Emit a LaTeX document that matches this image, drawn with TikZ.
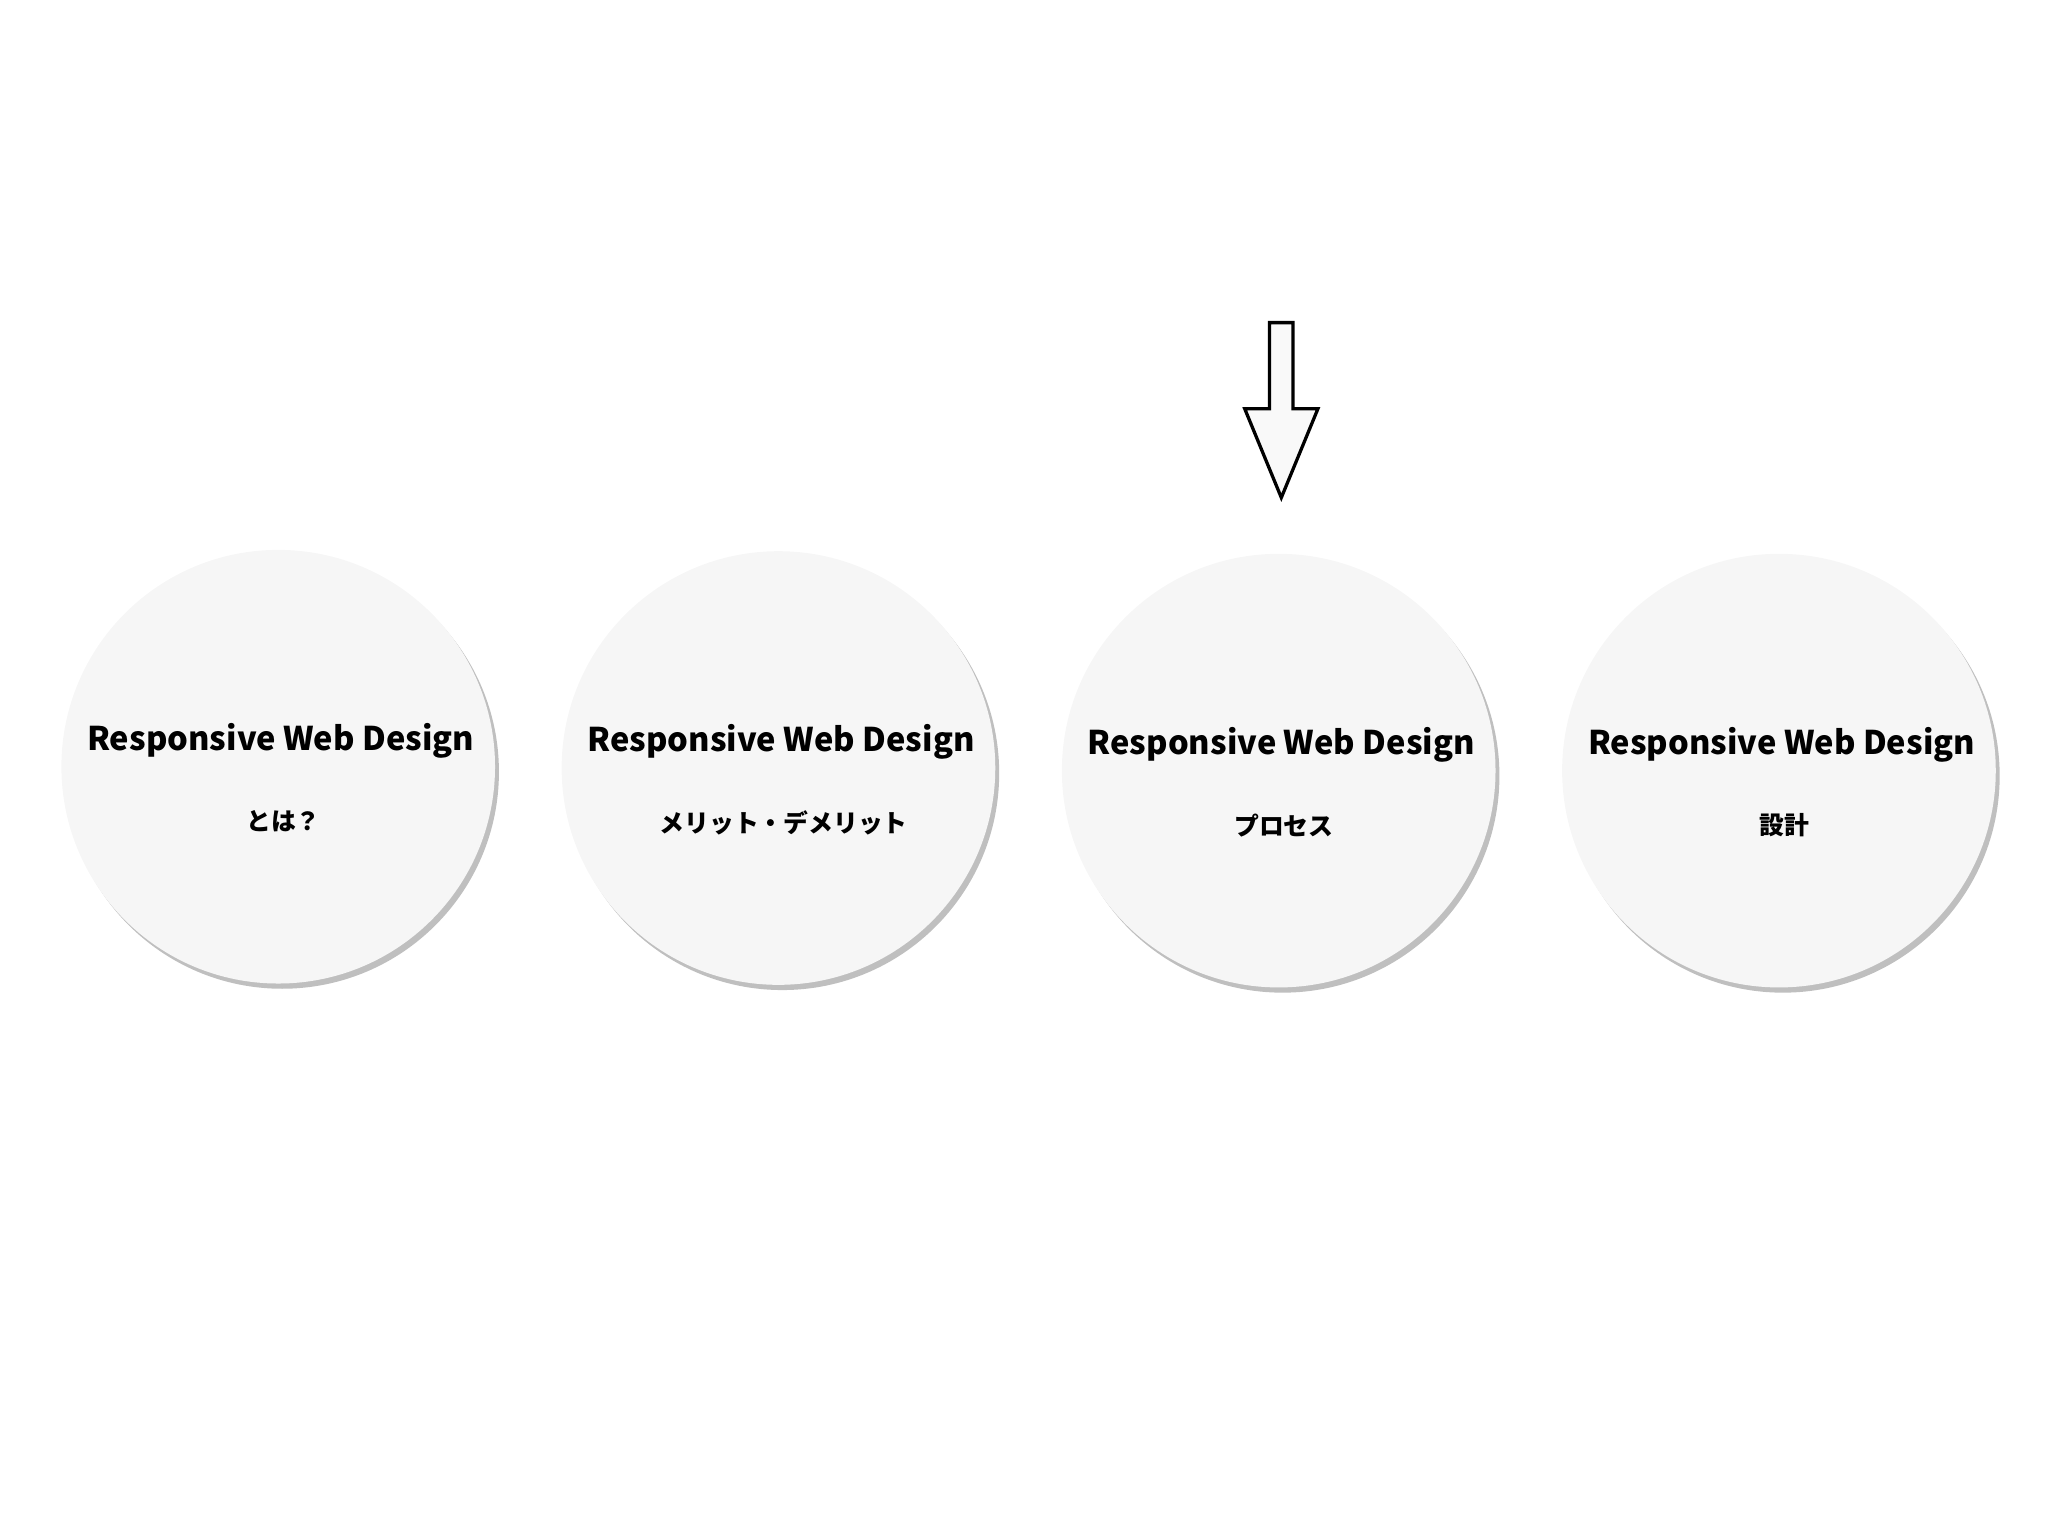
\documentclass[tikz,border=0pt]{standalone}
\usepackage{fontspec}
\setmainfont{Noto Sans CJK JP}
\usetikzlibrary{shadows}
\begin{document}
\begin{tikzpicture}[x=1pt,y=-1pt,
  disc/.style={circle,minimum size=332pt,fill=gray!7,inner sep=0pt,
    drop shadow={shadow xshift=3pt,shadow yshift=-4pt,opacity=0.25,fill=black}},
  ttl/.style={font=\fontsize{25}{28}\selectfont\bfseries},
  sub/.style={font=\fontsize{19}{22}\selectfont\bfseries}]
\useasboundingbox (0,0) rectangle (1568,1176);
\foreach \i/\x/\y/\s in {a/213/587/とは？, b/596/588/メリット・デメリット, c/979/590/プロセス, d/1362/590/設計}{
  \node[disc] (\i) at (\x,\y) {};
  \node[ttl] (\i t) at (\x+2,\y-20) {Responsive Web Design};
  \node[sub] (\i s) at (\x+4,\y+42) {\s};
}
\draw[line width=2.5pt,fill=gray!5,line join=miter]
  (972,247) -- (990,247) -- (990,313) -- (1009,313) -- (981,381) -- (953,313) -- (972,313) -- cycle;
\end{tikzpicture}
\end{document}
